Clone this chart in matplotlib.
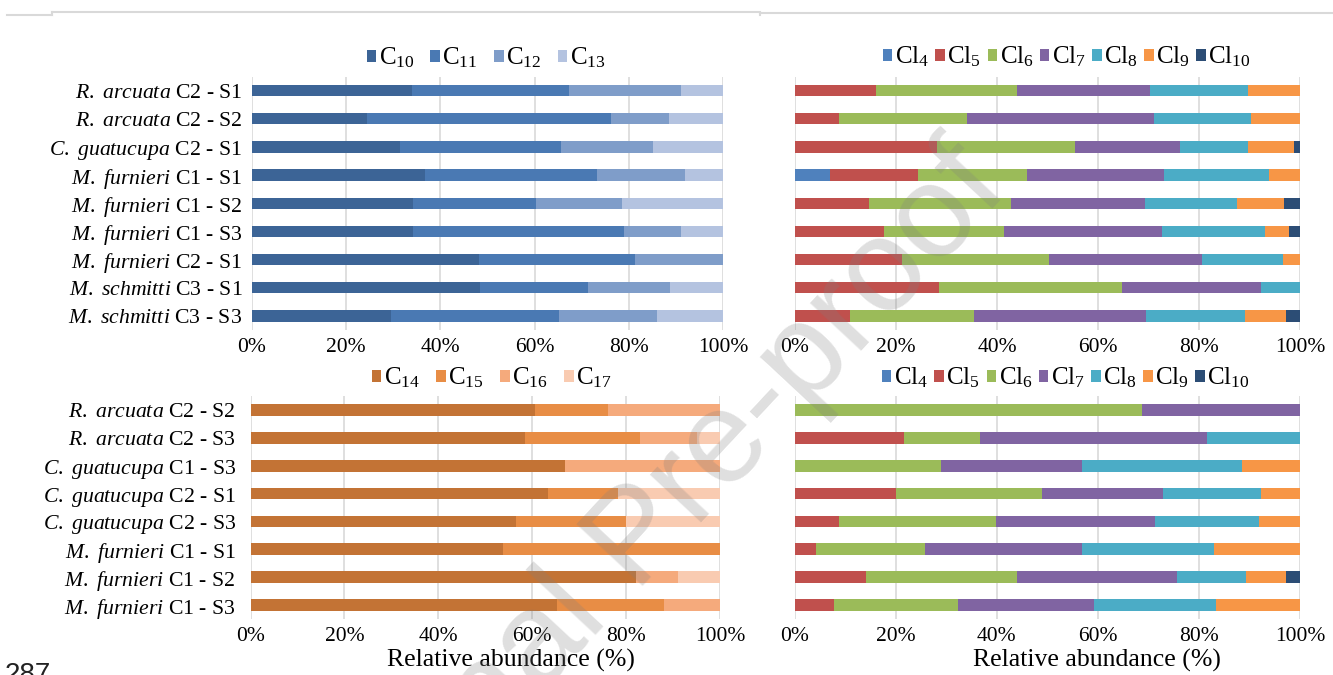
import matplotlib
matplotlib.use("Agg")
import matplotlib.pyplot as plt
from matplotlib.lines import Line2D
import numpy as np

plt.rcParams["font.family"] = ["Liberation Serif", "DejaVu Serif"]
plt.rcParams["mathtext.fontset"] = "custom"
plt.rcParams["mathtext.rm"] = "Liberation Serif"
plt.rcParams["mathtext.it"] = "Liberation Serif:italic"

# upper panels: samples
top_species = ["R. arcuata", "R. arcuata", "C. guatucupa", "M. furnieri", "M. furnieri",
               "M. furnieri", "M. furnieri", "M. schmitti", "M. schmitti"]
top_sites = ["C2 - S1", "C2 - S2", "C2 - S1", "C1 - S1", "C1 - S2",
             "C1 - S3", "C2 - S1", "C3 - S1", "C3 - S3"]

# chain length C10-C13 (%)
c10 = [33.9, 24.4, 31.4, 36.8, 34.1, 34.1, 48.2, 48.4, 29.5]
c11 = [33.4, 51.8, 34.2, 36.5, 26.1, 44.8, 33.1, 23.0, 35.6]
c12 = [23.7, 12.3, 19.5, 18.6, 18.4, 12.1, 18.7, 17.3, 20.8]
c13 = [9.0, 11.5, 14.9, 8.1, 21.4, 9.0, 0.0, 11.3, 14.1]

# chlorine content, upper samples (%)
top_cl4 = [0.0, 0.0, 0.0, 6.9, 0.0, 0.0, 0.0, 0.0, 0.0]
top_cl5 = [16.1, 8.7, 28.1, 17.4, 14.6, 17.7, 21.1, 28.5, 10.8]
top_cl6 = [27.9, 25.4, 27.3, 21.6, 28.2, 23.7, 29.2, 36.3, 24.6]
top_cl7 = [26.3, 36.9, 20.8, 27.1, 26.5, 31.2, 30.2, 27.4, 34.2]
top_cl8 = [19.5, 19.3, 13.6, 20.9, 18.3, 20.4, 16.2, 7.8, 19.5]
top_cl9 = [10.2, 9.7, 9.0, 6.1, 9.2, 4.9, 3.3, 0.0, 8.2]
top_cl10 = [0.0, 0.0, 1.2, 0.0, 3.2, 2.1, 0.0, 0.0, 2.7]

# lower panels: samples
bot_species = ["R. arcuata", "R. arcuata", "C. guatucupa", "C. guatucupa", "C. guatucupa",
               "M. furnieri", "M. furnieri", "M. furnieri"]
bot_sites = ["C2 - S2", "C2 - S3", "C1 - S3", "C2 - S1", "C2 - S3",
             "C1 - S1", "C1 - S2", "C1 - S3"]

# chain length C14-C17 (%)
c14 = [60.6, 58.5, 67.0, 63.4, 56.6, 53.8, 82.1, 65.2]
c15 = [15.5, 24.4, 0.0, 14.9, 23.3, 46.2, 0.0, 22.9]
c16 = [23.9, 12.1, 33.0, 0.0, 0.0, 0.0, 9.0, 11.9]
c17 = [0.0, 5.0, 0.0, 21.7, 20.1, 0.0, 8.9, 0.0]

# chlorine content, lower samples (%)
bot_cl4 = [0.0, 0.0, 0.0, 0.0, 0.0, 0.0, 0.0, 0.0]
bot_cl5 = [0.0, 21.7, 0.0, 20.1, 8.9, 4.2, 14.2, 7.9]
bot_cl6 = [68.7, 14.9, 28.9, 28.9, 31.0, 21.6, 29.9, 24.5]
bot_cl7 = [31.3, 45.0, 27.9, 23.8, 31.4, 31.0, 31.6, 26.8]
bot_cl8 = [0.0, 18.4, 31.7, 19.4, 20.5, 26.2, 13.7, 24.2]
bot_cl9 = [0.0, 0.0, 11.5, 7.8, 8.2, 17.0, 7.9, 16.6]
bot_cl10 = [0.0, 0.0, 0.0, 0.0, 0.0, 0.0, 2.7, 0.0]

short_names = [r"C$_{10}$", r"C$_{11}$", r"C$_{12}$", r"C$_{13}$"]
short_colors = ["#3c6496", "#4a79b3", "#7f9dc9", "#b4c3e0"]
medium_names = [r"C$_{14}$", r"C$_{15}$", r"C$_{16}$", r"C$_{17}$"]
medium_colors = ["#c37335", "#e88d45", "#f5aa7c", "#f9cbb1"]
cl_names = [r"Cl$_{4}$", r"Cl$_{5}$", r"Cl$_{6}$", r"Cl$_{7}$", r"Cl$_{8}$", r"Cl$_{9}$", r"Cl$_{10}$"]
cl_colors = ["#4f81bd", "#c0504d", "#9bbb59", "#8064a2", "#4bacc6", "#f79646", "#2c4d75"]

W, H = 1333, 675


def px_axes(fig, x0, x1, y_top, y_bot):
    return fig.add_axes([x0 / W, 1 - y_bot / H, (x1 - x0) / W, (y_bot - y_top) / H])


def stacked(ax, series, names, colors, bar_h, ylabels=None, ypad=7, xlabel_x=None):
    n = len(series[0])
    y = np.arange(n)
    left = np.zeros(n)
    for vals, name, col in zip(series, names, colors):
        vals = np.asarray(vals, float)
        ax.barh(y, vals, left=left, height=bar_h, color=col, label=name, zorder=2)
        left += vals
    ax.set_xlim(0, 100)
    ax.set_ylim(n - 0.5, -0.5)
    ax.set_xticks(range(0, 101, 20))
    ax.set_xticklabels([f"{t}%" for t in range(0, 101, 20)], fontsize=15.5)
    ax.set_yticks(y)
    if ylabels:
        ax.set_yticklabels(ylabels, fontsize=15.7)
    else:
        ax.set_yticklabels([])
    ax.tick_params(axis="x", length=0, pad=6)
    ax.tick_params(axis="y", length=0, pad=ypad)
    ax.xaxis.grid(True, color="#d9d9d9", lw=1.2)
    ax.set_axisbelow(True)
    for s in ax.spines.values():
        s.set_visible(False)
    if xlabel_x is not None:
        ax.set_xlabel("Relative abundance (%)", fontsize=18.5)
        ax.xaxis.set_label_coords(xlabel_x, -0.135)


def legend(ax, fig, cx, cy, spacing):
    ax.legend(loc="center", bbox_to_anchor=(cx / W, 1 - cy / H), bbox_transform=fig.transFigure,
              ncol=len(ax.containers), frameon=False, fontsize=18, handlelength=0.38,
              handleheight=0.38, handletextpad=0.1, columnspacing=spacing, borderpad=0)


def sample_labels(species, sites):
    return ["$\\mathit{" + sp.replace(" ", "\\ ") + "}$ " + st for sp, st in zip(species, sites)]


fig = plt.figure(figsize=(W / 100, H / 100), dpi=100)

ax1 = px_axes(fig, 252, 723, 76.5, 330)
stacked(ax1, [c10, c11, c12, c13], short_names, short_colors, 0.4,
        ylabels=sample_labels(top_species, top_sites), ypad=7)
legend(ax1, fig, 486, 58, 0.65)

ax2 = px_axes(fig, 795, 1300, 76.5, 330)
stacked(ax2, [top_cl4, top_cl5, top_cl6, top_cl7, top_cl8, top_cl9, top_cl10],
        cl_names, cl_colors, 0.4)
legend(ax2, fig, 1067, 57, 0.25)

ax3 = px_axes(fig, 250.5, 720, 396, 619)
stacked(ax3, [c14, c15, c16, c17], medium_names, medium_colors, 0.42,
        ylabels=sample_labels(bot_species, bot_sites), ypad=10.5, xlabel_x=0.555)
legend(ax3, fig, 492, 378, 0.65)

ax4 = px_axes(fig, 794.5, 1300, 396, 619)
stacked(ax4, [bot_cl4, bot_cl5, bot_cl6, bot_cl7, bot_cl8, bot_cl9, bot_cl10],
        cl_names, cl_colors, 0.42, xlabel_x=0.598)
legend(ax4, fig, 1066, 378, 0.25)

# page frame fragments at the top
for xs, ys in [((7, 52), (14.5, 14.5)), ((52, 760), (11.5, 11.5)), ((760, 1333), (12.5, 12.5)),
               ((52, 52), (11.5, 15)), ((760, 760), (12.5, 15))]:
    fig.add_artist(Line2D([x / W for x in xs], [1 - y / H for y in ys], color="#d9d9d9",
                          lw=1.5, transform=fig.transFigure))

# page line number
fig.text(5 / W, 1 - 662 / H, "287", fontsize=20, family="Liberation Sans",
         ha="left", va="top", color="#222222")

# watermark
fig.text(638 / W, 1 - 540 / H, "Journal Pre-proof", fontsize=95, family="Liberation Sans",
         rotation=47, rotation_mode="anchor", ha="center", va="center",
         color="#808080", alpha=0.25, zorder=10)

fig.savefig("out.png", dpi=100)
